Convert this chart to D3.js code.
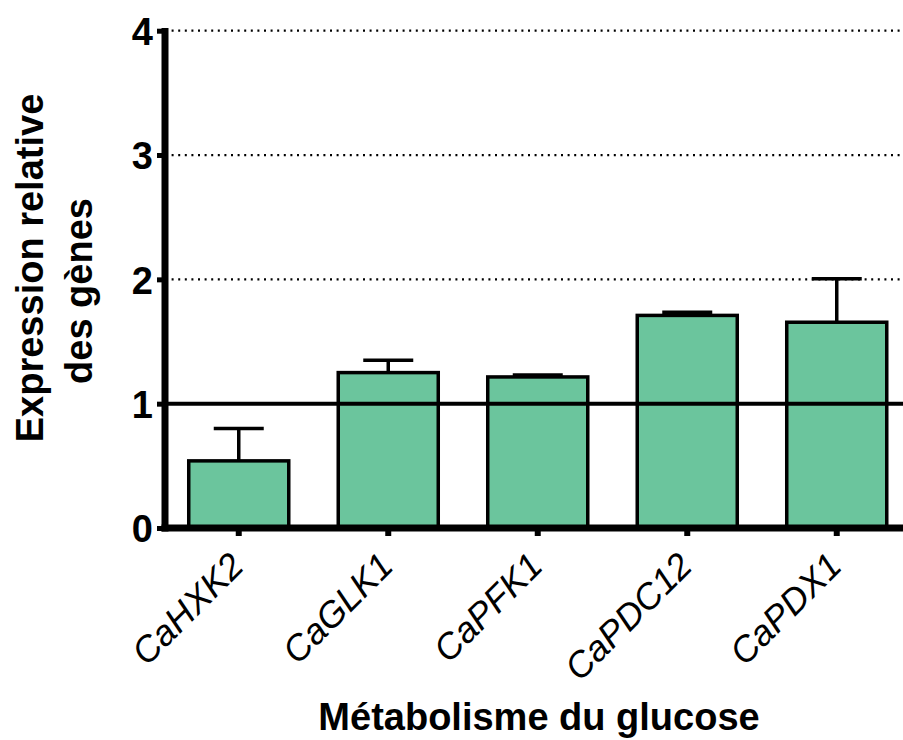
<!DOCTYPE html>
<html>
<head>
<meta charset="utf-8">
<script src="https://cdn.jsdelivr.net/npm/d3@7"></script>
<style>
  html, body { margin: 0; padding: 0; background: #fff; }
  svg { display: block; font-family: "Liberation Sans", Arial, sans-serif; }
</style>
</head>
<body>
<svg id="chart" width="903" height="740"></svg>
<script>
// Relative expression of glucose-metabolism genes
const genes = ["CaHXK2", "CaGLK1", "CaPFK1", "CaPDC12", "CaPDX1"];
const means = [0.54, 1.25, 1.215, 1.71, 1.655];
const errors = [0.26, 0.10, 0.015, 0.025, 0.35];
const yTicks = [0, 1, 2, 3, 4];
const gridValues = [2, 3, 4];
const referenceValue = 1;
const yTitleLines = ["Expression relative", "des gènes"];
const xTitle = "Métabolisme du glucose";

const svg = d3.select("#chart");
const W = 903;
const axisX = 165, axisY = 528;

const y = d3.scaleLinear().domain([0, 4]).range([axisY, 30.7]);
const x = d3.scaleBand().domain(genes).range([164, 911.5])
  .paddingInner(0.331).paddingOuter(0.1655);

const barFill = "#6BC59D";

// dotted grid lines
svg.append("g").selectAll("line").data(gridValues).join("line")
  .attr("x1", axisX).attr("x2", W)
  .attr("y1", d => y(d)).attr("y2", d => y(d))
  .attr("stroke", "#000").attr("stroke-width", 2.2)
  .attr("stroke-dasharray", "2,4.6");

// error bars (upper whisker only)
const eb = svg.append("g");
genes.forEach((g, i) => {
  const cx = x(g) + x.bandwidth() / 2;
  const top = y(means[i] + errors[i]);
  eb.append("line").attr("x1", cx).attr("x2", cx)
    .attr("y1", y(means[i])).attr("y2", top)
    .attr("stroke", "#000").attr("stroke-width", 3.5);
  eb.append("line").attr("x1", cx - 25).attr("x2", cx + 25)
    .attr("y1", top).attr("y2", top)
    .attr("stroke", "#000").attr("stroke-width", 3.5);
});

// bars
svg.append("g").selectAll("rect").data(genes).join("rect")
  .attr("x", d => x(d))
  .attr("width", x.bandwidth())
  .attr("y", (d, i) => y(means[i]))
  .attr("height", (d, i) => axisY - y(means[i]))
  .attr("fill", barFill)
  .attr("stroke", "#000").attr("stroke-width", 3.5);

// reference line at 1
svg.append("line")
  .attr("x1", axisX).attr("x2", W)
  .attr("y1", y(referenceValue)).attr("y2", y(referenceValue))
  .attr("stroke", "#000").attr("stroke-width", 4);

// y axis
const yAxis = d3.axisLeft(y).tickValues(yTicks).tickFormat(d3.format("d"))
  .tickSize(8).tickPadding(4);
const gy = svg.append("g").attr("transform", `translate(${axisX},0)`).call(yAxis);
gy.select(".domain").remove();
gy.selectAll(".tick line").attr("stroke", "#000").attr("stroke-width", 5);
gy.selectAll(".tick text")
  .attr("font-size", 38).attr("font-weight", "bold").attr("fill", "#000")
  .attr("font-family", "'Liberation Sans', Arial, sans-serif")
  .attr("dy", "0.36em");
svg.append("line").attr("x1", axisX).attr("x2", axisX)
  .attr("y1", 28).attr("y2", axisY + 3.5)
  .attr("stroke", "#000").attr("stroke-width", 7);

// x axis
const xAxis = d3.axisBottom(x).tickSize(8).tickFormat("");
const gx = svg.append("g").attr("transform", `translate(0,${axisY})`).call(xAxis);
gx.select(".domain").remove();
gx.selectAll(".tick line").attr("stroke", "#000").attr("stroke-width", 6);
svg.append("line").attr("x1", axisX - 3.5).attr("x2", W)
  .attr("y1", axisY).attr("y2", axisY)
  .attr("stroke", "#000").attr("stroke-width", 7);

// rotated italic category labels
svg.append("g").selectAll("text").data(genes).join("text")
  .attr("transform", d => `translate(${x(d) + x.bandwidth() / 2 + 7},${axisY + 40}) rotate(-45)`)
  .attr("text-anchor", "end")
  .attr("font-size", 36).attr("font-style", "italic")
  .attr("fill", "#000")
  .text(d => d);

// y axis title
const yTitleCenters = [[43, 268], [92, 291]];
svg.append("g").selectAll("text").data(yTitleLines).join("text")
  .attr("transform", (d, i) => `translate(${yTitleCenters[i][0]},${yTitleCenters[i][1]}) rotate(-90)`)
  .attr("text-anchor", "middle")
  .attr("font-size", 38).attr("font-weight", "bold").attr("fill", "#000")
  .text(d => d);

// x axis title
svg.append("text")
  .attr("x", 539).attr("y", 730)
  .attr("text-anchor", "middle")
  .attr("font-size", 38).attr("font-weight", "bold").attr("fill", "#000")
  .text(xTitle);
</script>
</body>
</html>
